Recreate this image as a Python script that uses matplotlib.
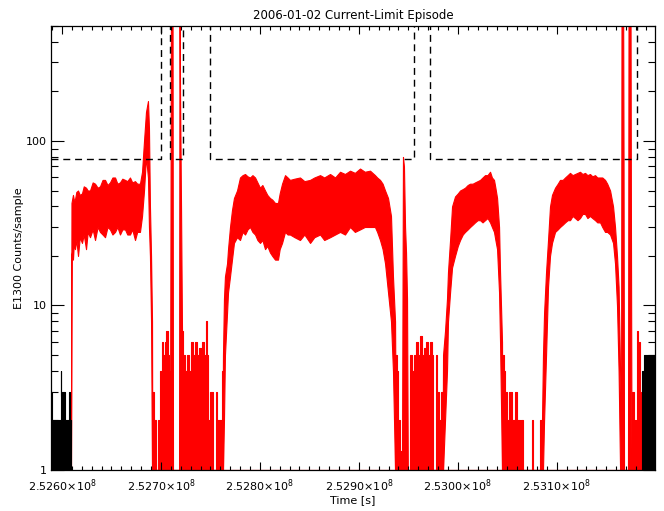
import matplotlib
matplotlib.use("Agg")
import matplotlib.pyplot as plt
from matplotlib.ticker import MultipleLocator, FixedLocator, FuncFormatter, LogLocator, NullFormatter

plt.rcParams["font.family"] = ["DejaVu Sans"]
plt.rcParams["font.size"] = 8
plt.rcParams["mathtext.fontset"] = "dejavusans"

T0 = 2.526e8  # s, reference for the time offsets below (given in ks)

# red trace, high-count parts: time offset [ks], lower and upper envelope
red_ks = [9.1, 9.6, 10.5, 11.1, 12.0, 13.1, 14.5, 16.2, 18.0, 20.2, 22.0, 24.3, 26.0,
          28.3, 31.0, 33.4, 36.0, 38.4, 41.0, 43.5, 46.0, 48.5, 51.0, 53.6, 56.0, 58.6,
          61.0, 63.7, 66.0, 68.7, 71.0, 73.8, 76.0, 78.8, 80.9, 82.9, 84.9, 86.9, 87.9,
          88.9, 90.0, 91.0, 91.3,
          109.1, 109.7, 110.2, 111.7, 112.2, 118.3, 118.8, 119.3, 120.3, 121.3, 122.0,
          162.0, 162.7, 163.7, 164.7, 166.8, 167.8, 169.8, 171.8, 173.8, 176.9, 179.9,
          182.5, 185.0, 187.5, 190.0, 192.5, 195.1, 197.5, 200.1, 202.5, 205.2, 207.5,
          210.2, 212.5, 215.3, 218.3, 220.0, 222.4, 225.4, 228.0, 230.4, 235.0, 240.5,
          245.0, 250.7, 255.0, 260.8, 265.0, 270.9, 276.0, 281.0, 286.0, 291.1, 296.0,
          301.2, 306.0, 311.3, 316.3, 318.5, 321.4, 324.0, 326.5, 329.5, 332.5, 334.5,
          336.6, 337.5,
          343.6, 344.6, 345.6, 346.7, 347.7, 348.7, 349.5,
          384.6, 385.1, 387.1, 389.1, 390.1, 392.2, 394.2, 397.2, 400.0, 402.3, 405.0,
          407.3, 410.0, 412.4, 415.0, 417.4, 420.0, 422.5, 425.0, 427.5, 430.0, 432.6,
          434.5, 436.6, 438.0, 439.7, 441.7, 442.7, 444.7, 445.2,
          484.6, 485.1, 486.1, 487.2, 489.2, 491.2, 493.2, 495.2, 498.3, 501.0, 503.3,
          506.0, 508.4, 511.0, 513.4, 516.0, 518.5, 521.0, 523.5, 526.0, 528.6, 531.0,
          533.6, 536.0, 538.7, 541.0, 543.8, 546.0, 548.8, 551.0, 553.9, 556.9, 558.9,
          560.9, 562.5, 564.0,
          565.0, 565.5, 567.0, 567.5, 568.0, 572.0, 572.6, 574.5, 575.0, 575.6]
red_lo = [1, 20, 22, 19, 24, 22, 25, 20, 26, 24, 27, 22, 28,
          26, 29, 25, 30, 28, 27, 26, 30, 29, 27, 28, 30, 27,
          29, 29, 27, 27, 29, 25, 28, 28, 35, 50, 80, 60, 30,
          20, 8, 1, 1,
          1, 1, 1, 1, 1, 1, 1, 1, 1, 1, 1,
          1, 1, 2, 5, 9, 12, 15, 19, 24, 26, 25,
          28, 27, 29, 30, 28, 27, 25, 24, 25, 22, 23,
          21, 20, 19, 19, 22, 24, 28, 27, 27, 26, 25,
          27, 24, 26, 27, 25, 26, 27, 28, 27, 30, 28,
          29, 30, 30, 30, 28, 25, 22, 18, 12, 8, 4,
          1, 1,
          1, 1, 1, 1, 1, 1, 1,
          1, 1, 2, 4, 8, 12, 17, 20, 23, 25, 27,
          28, 29, 30, 31, 32, 33, 33, 32, 33, 34, 32,
          30, 28, 25, 22, 12, 6, 1, 1,
          1, 1, 1, 2, 5, 13, 20, 24, 28, 29, 30,
          31, 32, 33, 33, 35, 34, 33, 34, 36, 36, 34,
          35, 34, 33, 32, 32, 30, 28, 28, 27, 24, 18,
          10, 4, 1,
          1, 1, 1, 1, 1, 1, 1, 1, 1, 1]
red_hi = [1, 42, 45, 47, 44, 44, 49, 50, 47, 48, 53, 52, 50,
          50, 56, 55, 52, 53, 58, 58, 54, 56, 60, 60, 55, 56,
          59, 58, 57, 60, 56, 57, 55, 55, 65, 100, 150, 175, 120,
          40, 20, 8, 1,
          1, 40, 1000, 1000, 1, 1, 1000, 200, 40, 7, 1,
          1, 5, 11, 15, 18, 22, 30, 38, 45, 50, 60,
          62, 63, 61, 60, 62, 60, 56, 52, 54, 50, 47,
          45, 44, 42, 42, 48, 55, 62, 60, 58, 59, 60,
          57, 58, 60, 62, 60, 63, 60, 65, 63, 66, 64,
          68, 65, 66, 62, 60, 58, 55, 50, 45, 35, 15,
          8, 1,
          1, 80, 70, 30, 21, 11, 1,
          1, 5, 7, 11, 16, 25, 40, 46, 48, 50, 51,
          52, 54, 55, 55, 56, 57, 58, 60, 62, 62, 65,
          60, 58, 52, 45, 30, 16, 6, 1,
          1, 2, 5, 9, 16, 25, 40, 47, 52, 55, 58,
          58, 60, 62, 64, 62, 63, 64, 65, 63, 64, 62,
          63, 61, 62, 60, 60, 60, 58, 55, 50, 40, 30,
          20, 13, 4,
          2, 1000, 1000, 80, 1, 1, 1000, 1000, 28, 1]

# red trace, low-count parts (1 to a few counts): time offset [ks] and counts
red_low_ks = [91.0, 93.0, 95.0, 97.5, 98.5, 99.5, 101.0, 102.5, 104.0, 105.5, 107.0, 108.5,
              109.1,
              121.3, 122.3, 124.0, 126.0, 128.0, 130.0, 132.0, 134.0, 136.0, 138.0, 140.0,
              142.0, 144.0, 145.5, 146.5, 148.0, 150.0, 152.6, 155.5, 157.0, 159.7, 161.7,
              162.7,
              336.6, 338.6, 340.0, 341.6, 343.6, 348.7, 350.7, 351.5, 353.7, 356.0, 358.0,
              360.0, 362.0, 364.0, 366.0, 368.0, 370.0, 372.0, 374.0, 374.5, 377.0, 377.5,
              379.0, 381.0, 383.0, 385.1,
              444.7, 446.7, 448.0, 450.0, 452.0, 455.0, 458.0, 460.0, 462.9, 463.5, 465.9,
              475.0, 476.5, 483.1, 485.1,
              575.6, 576.5, 578.0, 579.0, 580.0, 581.0, 582.0, 583.0, 584.0, 585.0, 586.2]
red_low_hi = [3, 2, 1, 2, 1, 4, 6, 5, 6, 7, 5, 4,
              1,
              7, 5, 4, 5, 4, 6, 5, 6, 5, 5.5, 5,
              6, 5, 8, 5, 2, 3, 1, 3, 2, 2, 4,
              1,
              5, 4, 2, 1.3, 1, 1, 1, 5, 4, 5, 6,
              5, 6.5, 5, 5.5, 6, 5, 6, 5, 1, 1, 5,
              3, 2, 3, 1,
              5, 4, 3, 2, 3, 2, 3, 2, 1, 2, 1,
              2, 1, 2, 1,
              1, 3, 1, 2, 1, 7, 5, 6, 3, 2, 1]

# black trace (outside the episode window): time offset [ks] and counts
black_left_ks = [-11.1, -10.6, -10.1, -1.5, -1.0, -0.5, 0.5, 3.0, 3.5, 6.1, 6.6, 7.1, 7.6, 9.1]
black_left_hi = [2, 3, 2, 2, 4, 2.8, 3, 2.8, 2, 2, 3, 3, 2, 2]
black_right_ks = [586.2, 587.5, 588.0, 599.3]
black_right_hi = [4, 4, 5, 5]

# current-limit threshold (dashed), step function
limit_ks = [-11.1, 100.1, 109.1, 122.3, 149.6, 355.8, 372.0, 581.2, 599.3]
limit_val = [78, 5000, 78, 5000, 78, 5000, 78, 5000, 5000]


def to_time(ks):
    return [T0 + k * 1e3 for k in ks]


fig = plt.figure(figsize=(6.64, 5.11), dpi=100)
ax = fig.add_axes([51 / 664, 1 - 470 / 511, 604 / 664, 444 / 511])

ax.fill_between(to_time(red_low_ks), [1] * len(red_low_ks), red_low_hi,
                color="red", linewidth=0.8, step="post")
ax.fill_between(to_time(red_ks), red_lo, red_hi, color="red", linewidth=0.8)
ax.fill_between(to_time(black_left_ks), [1] * len(black_left_ks), black_left_hi,
                color="black", linewidth=0.8, step="post")
ax.fill_between(to_time(black_right_ks), [1] * len(black_right_ks), black_right_hi,
                color="black", linewidth=0.8, step="post")
ax.step(to_time(limit_ks), limit_val, where="post", color="black", linewidth=1.0,
        dashes=(5, 3.5))

ax.set_yscale("log")
ax.set_ylim(1, 500)
ax.set_xlim(T0 - 11.1e3, T0 + 599.3e3)

ax.xaxis.set_major_locator(MultipleLocator(1e5))
ax.xaxis.set_minor_locator(MultipleLocator(1e4))
ax.xaxis.set_major_formatter(FuncFormatter(lambda v, p: rf"{v / 1e8:.4f}$\times$10$^{{8}}$"))
ax.yaxis.set_major_locator(FixedLocator([1, 10, 100]))
ax.yaxis.set_major_formatter(FuncFormatter(lambda v, p: f"{v:g}"))
ax.yaxis.set_minor_locator(LogLocator(base=10, subs=range(2, 10)))
ax.yaxis.set_minor_formatter(NullFormatter())

ax.tick_params(which="both", direction="in", top=True, right=True, width=0.8)
ax.tick_params(axis="x", which="major", length=6, pad=5)
ax.tick_params(axis="x", which="minor", length=3)
ax.tick_params(axis="y", which="major", length=9, pad=3)
ax.tick_params(axis="y", which="minor", length=4.8)
for s in ax.spines.values():
    s.set_linewidth(0.9)

ax.set_title("2006-01-02 Current-Limit Episode", fontsize=8.5, pad=5)
ax.set_xlabel("Time [s]", labelpad=1)
ax.set_ylabel("E1300 Counts/sample", labelpad=1)

fig.savefig("out.png", dpi=100)
